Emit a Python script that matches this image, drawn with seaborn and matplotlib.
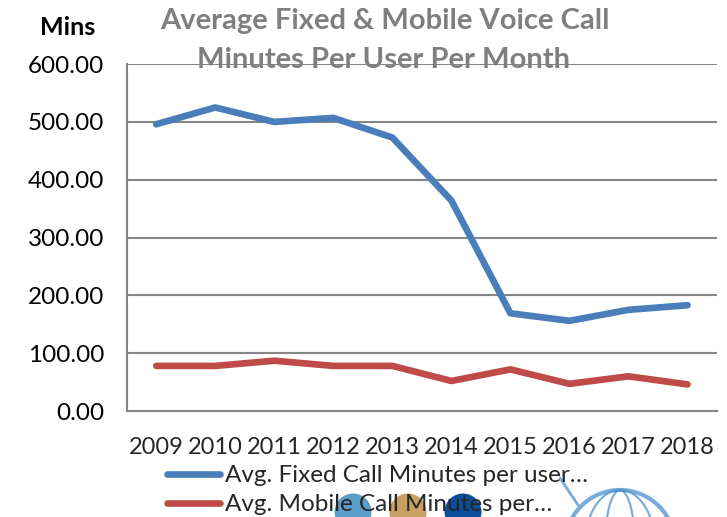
import numpy as np
import pandas as pd
import matplotlib
matplotlib.use("Agg")
import matplotlib.pyplot as plt
import seaborn as sns
from matplotlib.patches import Ellipse

years = ["2009", "2010", "2011", "2012", "2013", "2014", "2015", "2016", "2017", "2018"]
fixed_minutes = [496, 525, 500, 507, 473, 364, 169, 156, 175, 183]
mobile_minutes = [78, 78, 87, 78, 78, 52, 72, 47, 60, 46]
series_names = ["Avg. Fixed Call Minutes per user…", "Avg. Mobile Call Minutes per…"]
y_ticks = [0, 100, 200, 300, 400, 500, 600]

sns.set_style("white")
plt.rcParams["font.family"] = ["Lato", "DejaVu Sans"]

df = pd.DataFrame({
    "idx": list(range(len(years))) * 2,
    "value": fixed_minutes + mobile_minutes,
    "series": [series_names[0]] * len(years) + [series_names[1]] * len(years),
})

fig = plt.figure(figsize=(7.27, 5.17), dpi=100)
ax = fig.add_axes([0.1743, 0.205, 0.812, 0.671])

palette = {series_names[0]: "#4a7ebb", series_names[1]: "#be4b48"}
sns.lineplot(data=df, x="idx", y="value", hue="series", palette=palette,
             linewidth=4.8, ax=ax, legend=False, solid_capstyle="round")

ax.set_xlim(-0.5, len(years) - 0.5)
ax.set_ylim(0, 600)
ax.set_yticks(y_ticks)
ax.set_yticklabels([f"{v:.2f}" for v in y_ticks], fontsize=17.5, color="black")
ax.yaxis.grid(True, color="#868686", linewidth=1.5)
ax.set_axisbelow(True)
ax.set_xticks(np.arange(-0.5, len(years), 1.0))
ax.set_xticklabels([])
ax.set_xticks(np.arange(len(years)), minor=True)
ax.set_xticklabels(years, minor=True, fontsize=17)
ax.tick_params(axis="x", which="major", length=6, width=1.2, color="#868686", direction="out")
ax.tick_params(axis="x", which="minor", length=0, pad=19)
ax.tick_params(axis="y", length=6, width=1.2, color="#868686", direction="out", pad=10)
ax.set_xlabel("")
ax.set_ylabel("")
for s in ["top", "right"]:
    ax.spines[s].set_visible(False)
ax.spines["left"].set_color("#868686")
ax.spines["left"].set_linewidth(1.5)
ax.spines["bottom"].set_color("#868686")
ax.spines["bottom"].set_linewidth(1.5)

fig.text(0.530, 0.960, "Average Fixed & Mobile Voice Call", ha="center", va="center",
         fontsize=21, fontweight="bold", color="#7f7f7f")
fig.text(0.527, 0.883, "Minutes Per User Per Month", ha="center", va="center",
         fontsize=21, fontweight="bold", color="#7f7f7f")
fig.text(0.093, 0.946, "Mins", ha="center", va="center", fontsize=18, fontweight="bold", color="black")

def px(x, y):
    return (x / 727.0, 1 - y / 517.0)

# decorative logo elements behind legend
for cx, col in [(353, "#5b9ec9"), (408, "#c9a063"), (463, "#0b4f9c")]:
    c = Ellipse(px(cx, 512), 37 / 727.0, 37 / 517.0, transform=fig.transFigure,
                facecolor=col, edgecolor="none", zorder=0)
    fig.patches.append(c)

globe_col = "#4a8fcf"
for w, h, lw in [(110, 110, 3.0), (70, 110, 1.5), (30, 110, 1.5)]:
    e = Ellipse(px(620, 545), w / 727.0, h / 517.0, transform=fig.transFigure,
                facecolor="none", edgecolor=globe_col, linewidth=lw, alpha=0.75, zorder=0)
    fig.patches.append(e)
fig.add_artist(plt.Line2D([560 / 727.0, 578 / 727.0], [1 - 478 / 517.0, 1 - 505 / 517.0],
                          transform=fig.transFigure, color=globe_col, linewidth=2, alpha=0.75, zorder=0))

handles = [plt.Line2D([], [], color=palette[n], linewidth=4.8, solid_capstyle="round") for n in series_names]
leg = fig.legend(handles, series_names, loc="upper left", bbox_to_anchor=px(167, 465),
                 frameon=False, fontsize=17.5, handlelength=2.2, handletextpad=0.2,
                 labelspacing=0.33, borderaxespad=0, borderpad=0)

fig.savefig("out.png", dpi=100)
